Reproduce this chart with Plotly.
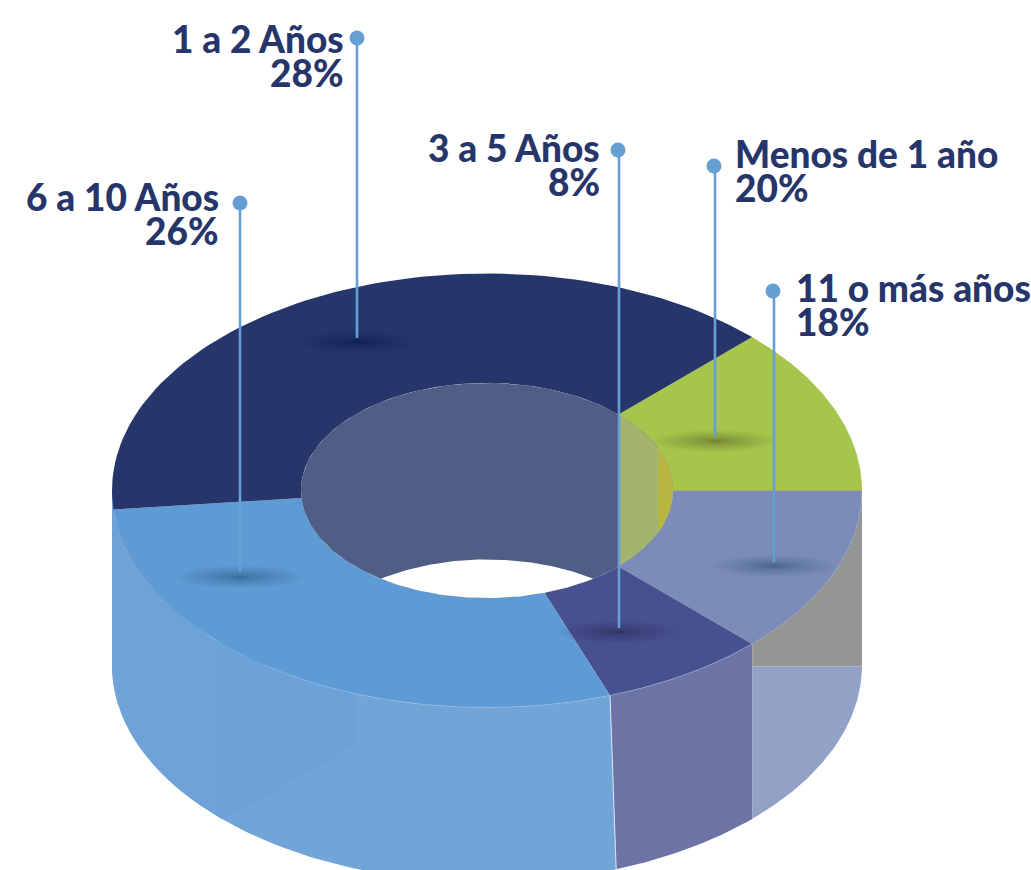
import numpy as np
import plotly.graph_objects as go

# ---- data ----
categories = ["Menos de 1 año", "11 o más años", "3 a 5 Años", "6 a 10 Años", "1 a 2 Años"]
share_labels = ["20%", "18%", "8%", "26%", "28%"]
# the slices are not drawn in proportion to the labels: sweep (degrees)
drawn_sweep = [45, 45, 25.85, 104.15, 140]

# ---- styles / geometry ----
top_colors = ["#a6c54b", "#7a8cb7", "#485190", "#5e9ad3", "#26366a"]
CX, CY = 487, 490.5
RX, RY = 375, 217
IRX, IRY = 186, 107.5
DEPTH = 175
HOLE_DEPTH = 176.5
START = 45
NAVY = "#26366a"
LEAD = "#669fd4"
inner_offset = [0, 0, 0, -1.2, -1, 0]

leader_x = [715, 774, 619, 240, 357]
leader_top = [166, 291, 150, 203, 38]
leader_bottom = [437, 562, 628, 572, 338]
shadow_y = [441, 566, 632, 577, 342]
shadow_dark = ["#3f4a20", "#2f3a62", "#1f2550", "#27477a", "#10183a"]
text_x = [735, 796, 600, 219, 344]
text_anchor = ["left", "left", "right", "right", "right"]
line1_y = [153, 287, 147, 196, 38]

fig = go.Figure()


def arc(rx, ry, t1, t2, cy=CY, n=90):
    t = np.radians(np.linspace(t1, t2, n))
    return CX + rx * np.cos(t), cy - ry * np.sin(t)


def poly(xs, ys, color, opacity=1.0):
    fig.add_trace(go.Scatter(x=np.asarray(xs), y=np.asarray(ys), mode="lines", fill="toself",
                             fillcolor=color, opacity=opacity, line=dict(width=0),
                             hoverinfo="skip", showlegend=False))


def stroke(xs, ys, color, width):
    fig.add_trace(go.Scatter(x=np.asarray(xs), y=np.asarray(ys), mode="lines",
                             line=dict(color=color, width=width),
                             hoverinfo="skip", showlegend=False))


edges = START - np.concatenate([[0], np.cumsum(drawn_sweep)])
BOT = CY + DEPTH


def band(t1, t2, color, b1=None, b2=None):
    b1 = t1 if b1 is None else b1
    b2 = t2 if b2 is None else b2
    xt, yt = arc(RX, RY, t1, t2)
    xb, yb = arc(RX, RY, b2, b1, cy=BOT)
    poly(np.r_[xt, xb], np.r_[yt, yb], color)


# outer wall: blue (angles continue from the blue slice to the left rim)
e_blue = edges[3]
band(e_blue, -180, "#71a5d8", b1=e_blue + 1)
# slightly darker left part and panel on the blue wall
xa, ya = arc(RX, RY, -180, -135)
xp, yp = arc(RX, RY, -135, -180, cy=BOT)
poly(np.r_[xa, xp], np.r_[ya, yp], "#6fa3d7")
xt, yt = arc(RX, RY, -135, -110.6)
poly(np.r_[xt, xt[-1], 228, xt[0]], np.r_[yt, 745, 817, BOT + RY * 0.707], "#6da1d7")
# indigo wall
band(edges[2], e_blue, "#6c73a5", b2=e_blue + 1)
# periwinkle wall: grey upper part, lighter lower part
xt, yt = arc(RX, RY, edges[1], edges[2])
xe = xt[-1]
poly(np.r_[xt, xe, xt[0]], np.r_[yt, BOT + 1, BOT + 1], "#949696")
xb, yb = arc(RX, RY, edges[2], edges[1], cy=BOT)
poly(np.r_[xe, xb, xt[0]], np.r_[BOT + 1, yb, BOT + 1], "#92a2c7")
# pale seam between blue and indigo walls
sx1, sy1 = arc(RX, RY, e_blue, e_blue, n=1)
sx2, sy2 = arc(RX, RY, e_blue + 1, e_blue + 1, cy=BOT, n=1)
stroke(np.r_[sx1, sx2], np.r_[sy1, sy2], "#dbe6f3", 1)

# top face
for i, c in enumerate(top_colors):
    xo, yo = arc(RX, RY, edges[i], edges[i + 1])
    xi, yi = arc(IRX, IRY, edges[i + 1] + inner_offset[i + 1], edges[i] + inner_offset[i])
    poly(np.r_[xo, xi], np.r_[yo, yi], c)
# faint highlight along the front rim
xr, yr = arc(RX, RY, edges[2], -125)
stroke(xr, yr, "#9cc0e4", 0.5)
# seam between green and periwinkle
stroke([CX + IRX, CX + RX], [CY, CY], "#b4a868", 0.8)

# hole: inner wall, see-through lens, tinted right part
xh, yh = arc(IRX, IRY, 0, 360, n=240)
poly(xh, yh, "#505d84")
half = np.degrees(np.arccos(106.6 / IRX))
xl1, yl1 = arc(IRX, IRY, -180 + half, -half)
xl2, yl2 = arc(IRX, IRY, 180 - half, half, cy=CY + HOLE_DEPTH)
xl2, yl2 = xl2[::-1], yl2[::-1]
poly(np.r_[xl1, xl2], np.r_[yl1, yl2], "#ffffff")
xg, yg = arc(IRX, IRY, edges[0], edges[2])
poly(xg, yg, "#a3b46f")
ang = np.degrees(np.arccos((658 - CX) / IRX))
xg, yg = arc(IRX, IRY, ang, -ang)
poly(xg, yg, "#b8b542")

# soft shadows at the leader feet
LAYERS = 26
for x0, y0, dark in zip(leader_x, shadow_y, shadow_dark):
    for k in range(LAYERS):
        f = (1 - k / LAYERS) ** 2.0
        t = np.radians(np.linspace(0, 360, 60))
        poly(x0 + 62 * f * np.cos(t), y0 + 11 * f * np.sin(t), dark, 0.028)

# leaders with dots
for x0, y1, y2 in zip(leader_x, leader_top, leader_bottom):
    stroke([x0, x0], [y1, y2], LEAD, 2.6)
fig.add_trace(go.Scatter(x=[x - 1 if x in (715, 774, 619) else x for x in leader_x], y=leader_top,
                         mode="markers", marker=dict(color=LEAD, size=15, line=dict(width=0)),
                         hoverinfo="skip", showlegend=False))

# labels
font = dict(family="Lato", size=37, color=NAVY, weight=900)
for cat, pct, x0, anc, y0 in zip(categories, share_labels, text_x, text_anchor, line1_y):
    for txt, yy in ((cat, y0), (pct, y0 + 34)):
        fig.add_annotation(x=x0, y=yy, text=txt, showarrow=False, xanchor=anc, yanchor="middle",
                           font=font, xref="x", yref="y", borderpad=0, borderwidth=0)

axis = dict(visible=False, fixedrange=True, showgrid=False, zeroline=False)
fig.update_layout(width=1031, height=870, margin=dict(l=0, r=0, t=0, b=0),
                  paper_bgcolor="white", plot_bgcolor="white", showlegend=False,
                  xaxis=dict(range=[0, 1031], **axis),
                  yaxis=dict(range=[870, 0], **axis))
fig.write_html("out.html", config=dict(displayModeBar=False),
               post_script="document.body.style.margin='0';document.body.style.overflow='hidden';")
